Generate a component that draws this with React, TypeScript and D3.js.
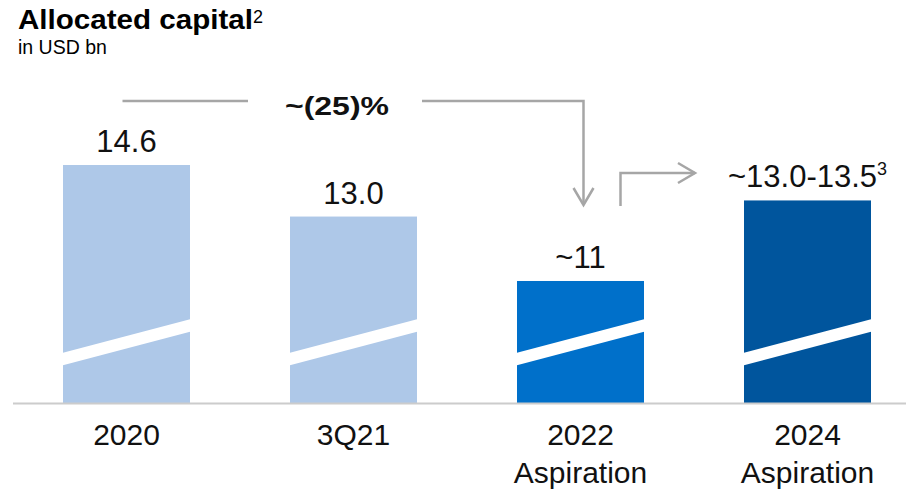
import React from "react";
import * as d3 from "d3";

const categories = ["2020", "3Q21", "2022", "2024"];
const categoryLines = [["2020"], ["3Q21"], ["2022", "Aspiration"], ["2024", "Aspiration"]];
const barValues = [14.6, 13.0, 11, 13.5];
const valueLabels = ["14.6", "13.0", "~11", "~13.0-13.5"];
const valueSupers = ["", "", "", "3"];
const barColors = ["#aec8e8", "#aec8e8", "#0070ca", "#00559d"];
const changeLabel = "~(25)%";
const title = "Allocated capital";
const titleSup = "2";
const subtitle = "in USD bn";

const W = 906;
const H = 490;
const base = 403;
const barW = 127;
const FONT = "'Liberation Sans', Arial, Helvetica, sans-serif";

export default function App() {
  const x = d3.scalePoint<string>().domain(categories).range([126.5, 807.5]);
  const y = d3.scaleLinear().domain([7.213, 14.6]).range([base, 165]);
  const gray = "#a6a6a6";

  const cx = (i: number) => x(categories[i]) as number;

  // top connector
  const topY = 101;
  const x0 = cx(0) - 4;
  const x2 = cx(2) + 3;
  const line1 = d3.line()([[x0, topY], [248, topY]]);
  const line2 = d3.line()([[422, topY], [x2, topY], [x2, 205]]);
  const head1 = d3.line()([[x2 - 10, 188], [x2, 205], [x2 + 10, 188]]);

  // second connector
  const sx = cx(2) + 40;
  const ex = 695;
  const line3 = d3.line()([[sx, 206], [sx, 173], [ex, 173]]);
  const head2 = d3.line()([[ex - 17, 163], [ex, 173], [ex - 17, 183]]);

  return (
    <svg
      width={W}
      height={H}
      style={{ position: "absolute", left: 0, top: 0, background: "#fff" }}
      fontFamily={FONT}
    >
      <rect width={W} height={H} fill="#fff" />
      <text x={18} y={29} fontSize={27} fontWeight="bold" fill="#000" textLength={235} lengthAdjust="spacingAndGlyphs">
        {title}
      </text>
      <text x={253} y={23} fontSize={18} fill="#000">{titleSup}</text>
      <text x={18} y={54} fontSize={19.5} fill="#000">{subtitle}</text>

      {barValues.map((v, i) => {
        const left = cx(i) - barW / 2;
        const top = y(v);
        const band = d3.line()([
          [left - 1, base - 50],
          [left + barW + 1, base - 84],
          [left + barW + 1, base - 71.5],
          [left - 1, base - 37.5],
        ]) + "Z";
        return (
          <g key={categories[i]}>
            <rect x={left} y={top} width={barW} height={base - top} fill={barColors[i]} />
            <path d={band} fill="#fff" />
            <text x={cx(i)} y={top - 13} fontSize={31} fill="#111" textAnchor="middle">
              {valueLabels[i]}
              {valueSupers[i] && (
                <tspan fontSize={18} dy={-12}>{valueSupers[i]}</tspan>
              )}
            </text>
            {categoryLines[i].map((t, j) => (
              <text key={j} x={cx(i)} y={445 + j * 38} fontSize={30} fill="#111" textAnchor="middle">
                {t}
              </text>
            ))}
          </g>
        );
      })}

      <line x1={13} x2={W} y1={base + 0.5} y2={base + 0.5} stroke="#cccccc" strokeWidth={2} />

      <path d={line1 as string} fill="none" stroke={gray} strokeWidth={2.5} />
      <path d={line2 as string} fill="none" stroke={gray} strokeWidth={2.5} />
      <path d={head1 as string} fill="none" stroke={gray} strokeWidth={2.5} />
      <text x={337} y={115} fontSize={26} fontWeight="bold" fill="#111" textAnchor="middle" textLength={104} lengthAdjust="spacingAndGlyphs">
        {changeLabel}
      </text>
      <path d={line3 as string} fill="none" stroke={gray} strokeWidth={2.5} />
      <path d={head2 as string} fill="none" stroke={gray} strokeWidth={2.5} />
    </svg>
  );
}
